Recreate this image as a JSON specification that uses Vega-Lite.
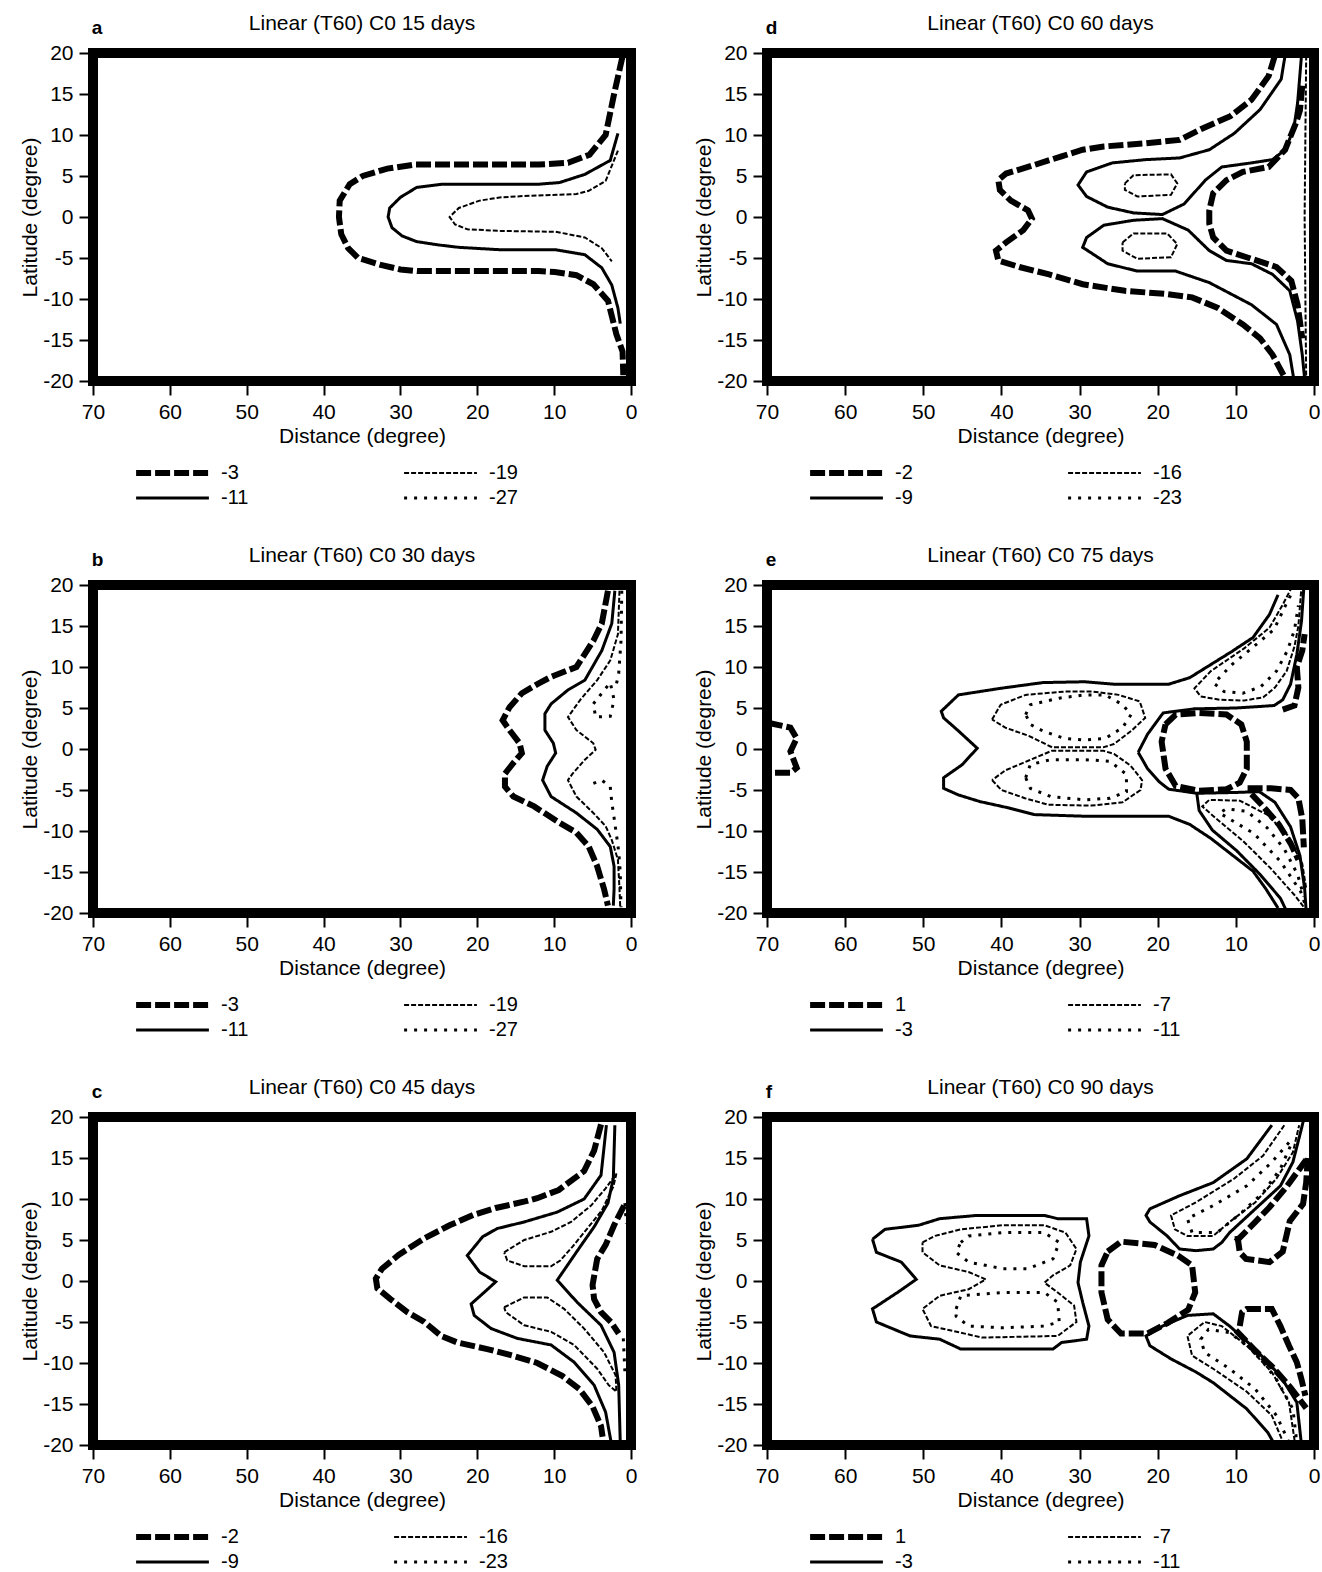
{
  "$schema": "https://vega.github.io/schema/vega-lite/v6.json",
  "background": "white",
  "padding": {"left": 14, "top": 8, "right": 0, "bottom": 0},
  "config": {
    "font": "Liberation Sans",
    "view": {"stroke": "black", "strokeWidth": 10},
    "axis": {
      "labelFontSize": 21, "titleFontSize": 21, "titleFontWeight": "normal",
      "labelColor": "black", "titleColor": "black", "tickColor": "black",
      "tickSize": 14, "tickWidth": 2, "domain": false, "grid": false, "labelFlush": false
    },
    "axisX": {"labelPadding": 6, "titlePadding": 3},
    "axisY": {"labelPadding": 6, "titlePadding": 2},
    "title": {"fontSize": 21, "fontWeight": "normal", "color": "black", "offset": 8},
    "legend": {
      "orient": "none", "legendX": 40, "legendY": 409, "direction": "horizontal",
      "columns": 2, "symbolType": "stroke", "symbolSize": 5300,
      "symbolStrokeColor": "black", "clipHeight": 22, "labelFontSize": 20,
      "labelColor": "black", "labelOffset": 9, "columnPadding": 152, "rowPadding": 3
    }
  },
  "datasets": {
    "c": [
      {"p":"a","l":"-3","g":1,"x":1.1,"y":19.6},{"p":"a","l":"-3","g":1,"x":2.2,"y":15},{"p":"a","l":"-3","g":1,"x":3.3,"y":10},{"p":"a","l":"-3","g":1,"x":5.4,"y":7.6},{"p":"a","l":"-3","g":1,"x":8.2,"y":6.6},{"p":"a","l":"-3","g":1,"x":12,"y":6.4},{"p":"a","l":"-3","g":1,"x":28,"y":6.4},{"p":"a","l":"-3","g":1,"x":31.7,"y":5.9},{"p":"a","l":"-3","g":1,"x":34.9,"y":5.0},{"p":"a","l":"-3","g":1,"x":36.6,"y":4.0},{"p":"a","l":"-3","g":1,"x":37.9,"y":2.0},{"p":"a","l":"-3","g":1,"x":38,"y":0},{"p":"a","l":"-3","g":1,"x":37.7,"y":-2.1},{"p":"a","l":"-3","g":1,"x":36.8,"y":-3.8},{"p":"a","l":"-3","g":1,"x":35.5,"y":-5.0},{"p":"a","l":"-3","g":1,"x":32.7,"y":-5.8},{"p":"a","l":"-3","g":1,"x":30,"y":-6.4},{"p":"a","l":"-3","g":1,"x":27.8,"y":-6.6},{"p":"a","l":"-3","g":1,"x":12,"y":-6.6},{"p":"a","l":"-3","g":1,"x":9.9,"y":-6.7},{"p":"a","l":"-3","g":1,"x":7.1,"y":-7.1},{"p":"a","l":"-3","g":1,"x":4.9,"y":-8.2},{"p":"a","l":"-3","g":1,"x":3.0,"y":-10.2},{"p":"a","l":"-3","g":1,"x":1.9,"y":-14.3},{"p":"a","l":"-3","g":1,"x":1.1,"y":-16.4},{"p":"a","l":"-3","g":1,"x":1.0,"y":-19.3},
      {"p":"a","l":"-11","g":2,"x":1.7,"y":10.2},{"p":"a","l":"-11","g":2,"x":2.7,"y":6.9},{"p":"a","l":"-11","g":2,"x":6,"y":5.2},{"p":"a","l":"-11","g":2,"x":9.3,"y":4.2},{"p":"a","l":"-11","g":2,"x":12,"y":4.0},{"p":"a","l":"-11","g":2,"x":24.6,"y":4.0},{"p":"a","l":"-11","g":2,"x":27.9,"y":3.6},{"p":"a","l":"-11","g":2,"x":30,"y":2.4},{"p":"a","l":"-11","g":2,"x":31.4,"y":1.1},{"p":"a","l":"-11","g":2,"x":31.6,"y":0},{"p":"a","l":"-11","g":2,"x":31.1,"y":-1.3},{"p":"a","l":"-11","g":2,"x":29.8,"y":-2.3},{"p":"a","l":"-11","g":2,"x":27.9,"y":-3.0},{"p":"a","l":"-11","g":2,"x":25.1,"y":-3.4},{"p":"a","l":"-11","g":2,"x":22.4,"y":-3.7},{"p":"a","l":"-11","g":2,"x":16.9,"y":-4.0},{"p":"a","l":"-11","g":2,"x":9.8,"y":-4.0},{"p":"a","l":"-11","g":2,"x":6,"y":-4.6},{"p":"a","l":"-11","g":2,"x":3.8,"y":-6.2},{"p":"a","l":"-11","g":2,"x":2.5,"y":-8.3},{"p":"a","l":"-11","g":2,"x":1.7,"y":-11.1},{"p":"a","l":"-11","g":2,"x":1.4,"y":-13},
      {"p":"a","l":"-19","g":3,"x":1.7,"y":8.1},{"p":"a","l":"-19","g":3,"x":3.3,"y":4.4},{"p":"a","l":"-19","g":3,"x":5.5,"y":3.2},{"p":"a","l":"-19","g":3,"x":7.1,"y":2.8},{"p":"a","l":"-19","g":3,"x":13.1,"y":2.6},{"p":"a","l":"-19","g":3,"x":16.9,"y":2.4},{"p":"a","l":"-19","g":3,"x":19.7,"y":2.0},{"p":"a","l":"-19","g":3,"x":22.4,"y":1.1},{"p":"a","l":"-19","g":3,"x":23.6,"y":0},{"p":"a","l":"-19","g":3,"x":22.9,"y":-0.9},{"p":"a","l":"-19","g":3,"x":21.3,"y":-1.5},{"p":"a","l":"-19","g":3,"x":16.9,"y":-1.7},{"p":"a","l":"-19","g":3,"x":9.8,"y":-1.8},{"p":"a","l":"-19","g":3,"x":6,"y":-2.5},{"p":"a","l":"-19","g":3,"x":3.8,"y":-3.8},{"p":"a","l":"-19","g":3,"x":2.5,"y":-5.4},

      {"p":"b","l":"-3","g":1,"x":3.0,"y":19.3},{"p":"b","l":"-3","g":1,"x":3.8,"y":15.3},{"p":"b","l":"-3","g":1,"x":4.9,"y":13.2},{"p":"b","l":"-3","g":1,"x":7.1,"y":10},{"p":"b","l":"-3","g":1,"x":10.4,"y":8.8},{"p":"b","l":"-3","g":1,"x":12,"y":8.0},{"p":"b","l":"-3","g":1,"x":14.2,"y":6.8},{"p":"b","l":"-3","g":1,"x":15.8,"y":5.1},{"p":"b","l":"-3","g":1,"x":16.7,"y":3.5},{"p":"b","l":"-3","g":1,"x":15.8,"y":2.3},{"p":"b","l":"-3","g":1,"x":14.5,"y":0.7},{"p":"b","l":"-3","g":1,"x":14.2,"y":-0.5},{"p":"b","l":"-3","g":1,"x":15.3,"y":-1.7},{"p":"b","l":"-3","g":1,"x":16.4,"y":-3.0},{"p":"b","l":"-3","g":1,"x":16.4,"y":-4.6},{"p":"b","l":"-3","g":1,"x":15.3,"y":-5.8},{"p":"b","l":"-3","g":1,"x":12.6,"y":-7.0},{"p":"b","l":"-3","g":1,"x":9.3,"y":-9.0},{"p":"b","l":"-3","g":1,"x":7.1,"y":-10.2},{"p":"b","l":"-3","g":1,"x":5.5,"y":-11.9},{"p":"b","l":"-3","g":1,"x":4.4,"y":-14.3},{"p":"b","l":"-3","g":1,"x":3.5,"y":-17.1},{"p":"b","l":"-3","g":1,"x":3.0,"y":-19.1},
      {"p":"b","l":"-11","g":2,"x":2.1,"y":19.3},{"p":"b","l":"-11","g":2,"x":2.5,"y":15.3},{"p":"b","l":"-11","g":2,"x":3.8,"y":12},{"p":"b","l":"-11","g":2,"x":6,"y":8.4},{"p":"b","l":"-11","g":2,"x":8.2,"y":7.2},{"p":"b","l":"-11","g":2,"x":10.4,"y":5.5},{"p":"b","l":"-11","g":2,"x":11.2,"y":4.3},{"p":"b","l":"-11","g":2,"x":11.2,"y":2.3},{"p":"b","l":"-11","g":2,"x":10.1,"y":0.7},{"p":"b","l":"-11","g":2,"x":9.8,"y":-0.5},{"p":"b","l":"-11","g":2,"x":10.9,"y":-2.1},{"p":"b","l":"-11","g":2,"x":11.5,"y":-3.8},{"p":"b","l":"-11","g":2,"x":10.4,"y":-5.8},{"p":"b","l":"-11","g":2,"x":7.1,"y":-7.8},{"p":"b","l":"-11","g":2,"x":4.4,"y":-9.8},{"p":"b","l":"-11","g":2,"x":2.7,"y":-11.9},{"p":"b","l":"-11","g":2,"x":2.2,"y":-14.3},{"p":"b","l":"-11","g":2,"x":2.2,"y":-17.1},{"p":"b","l":"-11","g":2,"x":2.3,"y":-19.1},
      {"p":"b","l":"-19","g":3,"x":1.5,"y":19.3},{"p":"b","l":"-19","g":3,"x":1.7,"y":14},{"p":"b","l":"-19","g":3,"x":2.7,"y":10.8},{"p":"b","l":"-19","g":3,"x":4.4,"y":8.4},{"p":"b","l":"-19","g":3,"x":6.6,"y":6.0},{"p":"b","l":"-19","g":3,"x":8.2,"y":3.9},{"p":"b","l":"-19","g":3,"x":7.1,"y":2.3},{"p":"b","l":"-19","g":3,"x":4.9,"y":0.7},{"p":"b","l":"-19","g":3,"x":4.6,"y":-0.1},{"p":"b","l":"-19","g":3,"x":6,"y":-1.3},{"p":"b","l":"-19","g":3,"x":7.6,"y":-3.0},{"p":"b","l":"-19","g":3,"x":8.2,"y":-3.8},{"p":"b","l":"-19","g":3,"x":7.1,"y":-5.8},{"p":"b","l":"-19","g":3,"x":4.9,"y":-7.8},{"p":"b","l":"-19","g":3,"x":3.3,"y":-9.4},{"p":"b","l":"-19","g":3,"x":2.5,"y":-11.1},{"p":"b","l":"-19","g":3,"x":1.7,"y":-13.5},{"p":"b","l":"-19","g":3,"x":1.5,"y":-17},{"p":"b","l":"-19","g":3,"x":1.4,"y":-19.3},
      {"p":"b","l":"-27","g":4,"x":4.9,"y":5.5},{"p":"b","l":"-27","g":4,"x":3.8,"y":6.8},{"p":"b","l":"-27","g":4,"x":2.7,"y":8.1},{"p":"b","l":"-27","g":4,"x":2.2,"y":6},{"p":"b","l":"-27","g":4,"x":2.7,"y":4},{"p":"b","l":"-27","g":4,"x":4.6,"y":3.9},{"p":"b","l":"-27","g":4,"x":4.9,"y":5.5},
      {"p":"b","l":"-27","g":5,"x":1.2,"y":19.3},{"p":"b","l":"-27","g":5,"x":1.3,"y":13.2},{"p":"b","l":"-27","g":5,"x":1.6,"y":9.2},{"p":"b","l":"-27","g":5,"x":2.0,"y":7.5},
      {"p":"b","l":"-27","g":6,"x":4.9,"y":-4.2},{"p":"b","l":"-27","g":6,"x":3.8,"y":-3.8},{"p":"b","l":"-27","g":6,"x":2.7,"y":-4.6},{"p":"b","l":"-27","g":6,"x":2.5,"y":-6.5},{"p":"b","l":"-27","g":6,"x":2.2,"y":-8.4},{"p":"b","l":"-27","g":6,"x":1.9,"y":-10.4},{"p":"b","l":"-27","g":6,"x":1.6,"y":-12.5},{"p":"b","l":"-27","g":6,"x":1.4,"y":-15},{"p":"b","l":"-27","g":6,"x":1.3,"y":-19.3},

      {"p":"c","l":"-2","g":1,"x":3.9,"y":19.1},{"p":"c","l":"-2","g":1,"x":4.8,"y":15.9},{"p":"c","l":"-2","g":1,"x":6.1,"y":13.4},{"p":"c","l":"-2","g":1,"x":9.4,"y":11.1},{"p":"c","l":"-2","g":1,"x":12.2,"y":10.1},{"p":"c","l":"-2","g":1,"x":13.8,"y":9.7},{"p":"c","l":"-2","g":1,"x":17.6,"y":8.9},{"p":"c","l":"-2","g":1,"x":20.4,"y":8.1},{"p":"c","l":"-2","g":1,"x":23.6,"y":6.8},{"p":"c","l":"-2","g":1,"x":26.9,"y":5.2},{"p":"c","l":"-2","g":1,"x":30.2,"y":3.2},{"p":"c","l":"-2","g":1,"x":32.4,"y":1.5},{"p":"c","l":"-2","g":1,"x":33.2,"y":0.3},{"p":"c","l":"-2","g":1,"x":33,"y":-0.9},{"p":"c","l":"-2","g":1,"x":31.3,"y":-2.2},{"p":"c","l":"-2","g":1,"x":29.1,"y":-3.8},{"p":"c","l":"-2","g":1,"x":26.9,"y":-5.0},{"p":"c","l":"-2","g":1,"x":24.7,"y":-6.7},{"p":"c","l":"-2","g":1,"x":22.6,"y":-7.5},{"p":"c","l":"-2","g":1,"x":18.7,"y":-8.3},{"p":"c","l":"-2","g":1,"x":15.4,"y":-9.1},{"p":"c","l":"-2","g":1,"x":12.2,"y":-10},{"p":"c","l":"-2","g":1,"x":8.9,"y":-11.6},{"p":"c","l":"-2","g":1,"x":6.7,"y":-13.2},{"p":"c","l":"-2","g":1,"x":5,"y":-15.3},{"p":"c","l":"-2","g":1,"x":3.9,"y":-17.7},{"p":"c","l":"-2","g":1,"x":3.7,"y":-19},
      {"p":"c","l":"-9","g":2,"x":3.2,"y":19},{"p":"c","l":"-9","g":2,"x":3.9,"y":12.9},{"p":"c","l":"-9","g":2,"x":6.1,"y":10},{"p":"c","l":"-9","g":2,"x":9.6,"y":8.4},{"p":"c","l":"-9","g":2,"x":13.9,"y":7.2},{"p":"c","l":"-9","g":2,"x":17.4,"y":6.4},{"p":"c","l":"-9","g":2,"x":19.3,"y":5.4},{"p":"c","l":"-9","g":2,"x":21.3,"y":3.1},{"p":"c","l":"-9","g":2,"x":19.7,"y":1.1},{"p":"c","l":"-9","g":2,"x":17.6,"y":-0.1},{"p":"c","l":"-9","g":2,"x":19.0,"y":-1.3},{"p":"c","l":"-9","g":2,"x":20.8,"y":-2.8},{"p":"c","l":"-9","g":2,"x":20.4,"y":-4.2},{"p":"c","l":"-9","g":2,"x":18.2,"y":-5.8},{"p":"c","l":"-9","g":2,"x":14.8,"y":-7.0},{"p":"c","l":"-9","g":2,"x":10.4,"y":-7.8},{"p":"c","l":"-9","g":2,"x":7.4,"y":-9.9},{"p":"c","l":"-9","g":2,"x":4.8,"y":-12.7},{"p":"c","l":"-9","g":2,"x":3.3,"y":-16},{"p":"c","l":"-9","g":2,"x":2.6,"y":-19.6},
      {"p":"c","l":"-9","g":3,"x":2.1,"y":19},{"p":"c","l":"-9","g":3,"x":2.3,"y":12.5},{"p":"c","l":"-9","g":3,"x":3.0,"y":9.5},{"p":"c","l":"-9","g":3,"x":4.8,"y":6.6},{"p":"c","l":"-9","g":3,"x":6.6,"y":4.2},{"p":"c","l":"-9","g":3,"x":9.6,"y":0.1},{"p":"c","l":"-9","g":3,"x":7.0,"y":-2.6},{"p":"c","l":"-9","g":3,"x":3.9,"y":-5.4},{"p":"c","l":"-9","g":3,"x":2.2,"y":-8.7},{"p":"c","l":"-9","g":3,"x":1.6,"y":-12.7},{"p":"c","l":"-9","g":3,"x":1.4,"y":-19.6},
      {"p":"c","l":"-16","g":4,"x":16.5,"y":3.5},{"p":"c","l":"-16","g":4,"x":13.9,"y":5.0},{"p":"c","l":"-16","g":4,"x":10.4,"y":6.0},{"p":"c","l":"-16","g":4,"x":7.8,"y":7.2},{"p":"c","l":"-16","g":4,"x":5.2,"y":9.2},{"p":"c","l":"-16","g":4,"x":3.3,"y":11.3},{"p":"c","l":"-16","g":4,"x":1.9,"y":13.1},{"p":"c","l":"-16","g":4,"x":2.3,"y":11.5},{"p":"c","l":"-16","g":4,"x":3.8,"y":8.6},{"p":"c","l":"-16","g":4,"x":5.6,"y":6.5},{"p":"c","l":"-16","g":4,"x":7.6,"y":4.2},{"p":"c","l":"-16","g":4,"x":9.2,"y":2.5},{"p":"c","l":"-16","g":4,"x":10.4,"y":1.8},{"p":"c","l":"-16","g":4,"x":13.9,"y":1.8},{"p":"c","l":"-16","g":4,"x":16.1,"y":2.5},{"p":"c","l":"-16","g":4,"x":16.5,"y":3.5},
      {"p":"c","l":"-16","g":5,"x":16.5,"y":-3.2},{"p":"c","l":"-16","g":5,"x":13.9,"y":-2.0},{"p":"c","l":"-16","g":5,"x":10.9,"y":-2.0},{"p":"c","l":"-16","g":5,"x":8.7,"y":-3.4},{"p":"c","l":"-16","g":5,"x":6.1,"y":-5.8},{"p":"c","l":"-16","g":5,"x":3.5,"y":-8.7},{"p":"c","l":"-16","g":5,"x":2.0,"y":-11.5},{"p":"c","l":"-16","g":5,"x":1.9,"y":-13.5},{"p":"c","l":"-16","g":5,"x":2.9,"y":-12.7},{"p":"c","l":"-16","g":5,"x":4.4,"y":-10.7},{"p":"c","l":"-16","g":5,"x":7.4,"y":-7.8},{"p":"c","l":"-16","g":5,"x":10.4,"y":-6.2},{"p":"c","l":"-16","g":5,"x":13.9,"y":-5.4},{"p":"c","l":"-16","g":5,"x":16.3,"y":-3.8},{"p":"c","l":"-16","g":5,"x":16.5,"y":-3.2},
      {"p":"c","l":"-2","g":6,"x":0.9,"y":9.2},{"p":"c","l":"-2","g":6,"x":2.2,"y":6.8},{"p":"c","l":"-2","g":6,"x":3.3,"y":4.4},{"p":"c","l":"-2","g":6,"x":4.4,"y":2.7},{"p":"c","l":"-2","g":6,"x":5.0,"y":-0.5},{"p":"c","l":"-2","g":6,"x":4.8,"y":-2.2},{"p":"c","l":"-2","g":6,"x":3.9,"y":-3.8},{"p":"c","l":"-2","g":6,"x":2.6,"y":-5.0},{"p":"c","l":"-2","g":6,"x":1.6,"y":-6.4},
      {"p":"c","l":"-23","g":7,"x":0.8,"y":9.5},{"p":"c","l":"-23","g":7,"x":0.6,"y":7.0},
      {"p":"c","l":"-23","g":8,"x":1.0,"y":-7},{"p":"c","l":"-23","g":8,"x":0.8,"y":-11},

      {"p":"d","l":"-2","g":1,"x":5.0,"y":19.7},{"p":"d","l":"-2","g":1,"x":5.8,"y":17.2},{"p":"d","l":"-2","g":1,"x":8,"y":14.3},{"p":"d","l":"-2","g":1,"x":10.7,"y":12.3},{"p":"d","l":"-2","g":1,"x":14.5,"y":10.7},{"p":"d","l":"-2","g":1,"x":17.2,"y":9.4},{"p":"d","l":"-2","g":1,"x":21.5,"y":9.0},{"p":"d","l":"-2","g":1,"x":26.9,"y":8.6},{"p":"d","l":"-2","g":1,"x":29.6,"y":8.2},{"p":"d","l":"-2","g":1,"x":32.3,"y":7.4},{"p":"d","l":"-2","g":1,"x":36.6,"y":6.1},{"p":"d","l":"-2","g":1,"x":39.4,"y":5.3},{"p":"d","l":"-2","g":1,"x":40.4,"y":4.5},{"p":"d","l":"-2","g":1,"x":40.2,"y":3.3},{"p":"d","l":"-2","g":1,"x":38.8,"y":2.0},{"p":"d","l":"-2","g":1,"x":36.6,"y":0.8},{"p":"d","l":"-2","g":1,"x":36.1,"y":-0.2},{"p":"d","l":"-2","g":1,"x":37.2,"y":-1.6},{"p":"d","l":"-2","g":1,"x":39.4,"y":-3.1},{"p":"d","l":"-2","g":1,"x":40.7,"y":-4.1},{"p":"d","l":"-2","g":1,"x":40.4,"y":-5.3},{"p":"d","l":"-2","g":1,"x":37.7,"y":-6.1},{"p":"d","l":"-2","g":1,"x":33.9,"y":-7.0},{"p":"d","l":"-2","g":1,"x":29.6,"y":-8.2},{"p":"d","l":"-2","g":1,"x":24.2,"y":-9.0},{"p":"d","l":"-2","g":1,"x":18.8,"y":-9.4},{"p":"d","l":"-2","g":1,"x":15.6,"y":-9.8},{"p":"d","l":"-2","g":1,"x":12.3,"y":-11.1},{"p":"d","l":"-2","g":1,"x":9.1,"y":-13.1},{"p":"d","l":"-2","g":1,"x":6.9,"y":-14.8},{"p":"d","l":"-2","g":1,"x":5.3,"y":-16.8},{"p":"d","l":"-2","g":1,"x":3.9,"y":-19.3},
      {"p":"d","l":"-9","g":2,"x":3.7,"y":19.7},{"p":"d","l":"-9","g":2,"x":4.2,"y":16.8},{"p":"d","l":"-9","g":2,"x":6.9,"y":13.1},{"p":"d","l":"-9","g":2,"x":10.2,"y":10.2},{"p":"d","l":"-9","g":2,"x":13.4,"y":8.2},{"p":"d","l":"-9","g":2,"x":17.2,"y":7.2},{"p":"d","l":"-9","g":2,"x":21.5,"y":7.0},{"p":"d","l":"-9","g":2,"x":25.8,"y":6.6},{"p":"d","l":"-9","g":2,"x":29.1,"y":5.5},{"p":"d","l":"-9","g":2,"x":30.2,"y":3.9},{"p":"d","l":"-9","g":2,"x":29.1,"y":2.5},{"p":"d","l":"-9","g":2,"x":26.4,"y":1.2},{"p":"d","l":"-9","g":2,"x":23.1,"y":0.5},{"p":"d","l":"-9","g":2,"x":19.4,"y":0.3},{"p":"d","l":"-9","g":2,"x":16.6,"y":1.6},{"p":"d","l":"-9","g":2,"x":13.9,"y":4.5},{"p":"d","l":"-9","g":2,"x":11.8,"y":6.1},{"p":"d","l":"-9","g":2,"x":8,"y":6.6},{"p":"d","l":"-9","g":2,"x":5.3,"y":7.0},{"p":"d","l":"-9","g":2,"x":3.7,"y":8.2},{"p":"d","l":"-9","g":2,"x":2.6,"y":10.7},{"p":"d","l":"-9","g":2,"x":2.1,"y":13.9},{"p":"d","l":"-9","g":2,"x":1.6,"y":19.7},
      {"p":"d","l":"-9","g":3,"x":2.6,"y":-19.7},{"p":"d","l":"-9","g":3,"x":3.1,"y":-16.8},{"p":"d","l":"-9","g":3,"x":4.8,"y":-13.1},{"p":"d","l":"-9","g":3,"x":8,"y":-10.7},{"p":"d","l":"-9","g":3,"x":13.4,"y":-8.0},{"p":"d","l":"-9","g":3,"x":17.7,"y":-6.6},{"p":"d","l":"-9","g":3,"x":22.6,"y":-6.6},{"p":"d","l":"-9","g":3,"x":26.4,"y":-5.7},{"p":"d","l":"-9","g":3,"x":29.6,"y":-3.7},{"p":"d","l":"-9","g":3,"x":29.1,"y":-2.5},{"p":"d","l":"-9","g":3,"x":26.9,"y":-1.0},{"p":"d","l":"-9","g":3,"x":23.1,"y":-0.4},{"p":"d","l":"-9","g":3,"x":19.4,"y":-0.2},{"p":"d","l":"-9","g":3,"x":16.1,"y":-1.6},{"p":"d","l":"-9","g":3,"x":13.4,"y":-4.1},{"p":"d","l":"-9","g":3,"x":11.2,"y":-5.3},{"p":"d","l":"-9","g":3,"x":8,"y":-5.7},{"p":"d","l":"-9","g":3,"x":5.3,"y":-7.0},{"p":"d","l":"-9","g":3,"x":3.1,"y":-9.0},{"p":"d","l":"-9","g":3,"x":2.1,"y":-12.7},{"p":"d","l":"-9","g":3,"x":1.5,"y":-16.8},{"p":"d","l":"-9","g":3,"x":1.2,"y":-19.7},
      {"p":"d","l":"-16","g":4,"x":24.2,"y":4.1},{"p":"d","l":"-16","g":4,"x":23.1,"y":5.1},{"p":"d","l":"-16","g":4,"x":18.3,"y":5.2},{"p":"d","l":"-16","g":4,"x":17.5,"y":4.1},{"p":"d","l":"-16","g":4,"x":18.3,"y":2.7},{"p":"d","l":"-16","g":4,"x":22.6,"y":2.5},{"p":"d","l":"-16","g":4,"x":24.2,"y":3.3},{"p":"d","l":"-16","g":4,"x":24.2,"y":4.1},
      {"p":"d","l":"-16","g":5,"x":24.5,"y":-3.1},{"p":"d","l":"-16","g":5,"x":23.1,"y":-2.0},{"p":"d","l":"-16","g":5,"x":18.8,"y":-2.0},{"p":"d","l":"-16","g":5,"x":17.5,"y":-3.3},{"p":"d","l":"-16","g":5,"x":18.3,"y":-4.9},{"p":"d","l":"-16","g":5,"x":22.6,"y":-5.1},{"p":"d","l":"-16","g":5,"x":24.5,"y":-4.1},{"p":"d","l":"-16","g":5,"x":24.5,"y":-3.1},
      {"p":"d","l":"-2","g":6,"x":1.5,"y":16},{"p":"d","l":"-2","g":6,"x":1.8,"y":13},{"p":"d","l":"-2","g":6,"x":2.3,"y":11.5},{"p":"d","l":"-2","g":6,"x":3.7,"y":8.2},{"p":"d","l":"-2","g":6,"x":5.8,"y":6.1},{"p":"d","l":"-2","g":6,"x":9.1,"y":5.5},{"p":"d","l":"-2","g":6,"x":11.2,"y":4.5},{"p":"d","l":"-2","g":6,"x":12.9,"y":2.9},{"p":"d","l":"-2","g":6,"x":13.4,"y":0.8},{"p":"d","l":"-2","g":6,"x":13.4,"y":-0.8},{"p":"d","l":"-2","g":6,"x":12.9,"y":-2.5},{"p":"d","l":"-2","g":6,"x":11.2,"y":-4.1},{"p":"d","l":"-2","g":6,"x":8,"y":-5.1},{"p":"d","l":"-2","g":6,"x":4.8,"y":-6.1},{"p":"d","l":"-2","g":6,"x":2.9,"y":-7.8},{"p":"d","l":"-2","g":6,"x":2.1,"y":-10.7},{"p":"d","l":"-2","g":6,"x":1.5,"y":-14.8},
      {"p":"d","l":"-16","g":7,"x":1.0,"y":19.7},{"p":"d","l":"-16","g":7,"x":1.1,"y":10},{"p":"d","l":"-16","g":7,"x":1.2,"y":0},{"p":"d","l":"-16","g":7,"x":1.1,"y":-10},{"p":"d","l":"-16","g":7,"x":1.0,"y":-19.7},

      {"p":"e","l":"1","g":1,"x":69.9,"y":3.2},{"p":"e","l":"1","g":1,"x":67.0,"y":2.6},{"p":"e","l":"1","g":1,"x":66.2,"y":1.3},{"p":"e","l":"1","g":1,"x":67.0,"y":-0.3},{"p":"e","l":"1","g":1,"x":66.2,"y":-2.3},{"p":"e","l":"1","g":1,"x":67.0,"y":-2.9},{"p":"e","l":"1","g":1,"x":69.9,"y":-2.9},
      {"p":"e","l":"-3","g":2,"x":4.6,"y":18.8},{"p":"e","l":"-3","g":2,"x":5.7,"y":16.4},{"p":"e","l":"-3","g":2,"x":7.8,"y":13.6},{"p":"e","l":"-3","g":2,"x":10.5,"y":11.9},{"p":"e","l":"-3","g":2,"x":13.2,"y":10.3},{"p":"e","l":"-3","g":2,"x":15.9,"y":8.7},{"p":"e","l":"-3","g":2,"x":18.6,"y":7.9},{"p":"e","l":"-3","g":2,"x":25.6,"y":7.9},{"p":"e","l":"-3","g":2,"x":29.3,"y":8.2},{"p":"e","l":"-3","g":2,"x":34.7,"y":8.1},{"p":"e","l":"-3","g":2,"x":40.1,"y":7.4},{"p":"e","l":"-3","g":2,"x":45.5,"y":6.6},{"p":"e","l":"-3","g":2,"x":47.7,"y":4.6},{"p":"e","l":"-3","g":2,"x":47.4,"y":3.8},{"p":"e","l":"-3","g":2,"x":45.5,"y":2.2},{"p":"e","l":"-3","g":2,"x":43.1,"y":0.1},{"p":"e","l":"-3","g":2,"x":45,"y":-1.9},{"p":"e","l":"-3","g":2,"x":47.4,"y":-3.5},{"p":"e","l":"-3","g":2,"x":47.4,"y":-4.8},{"p":"e","l":"-3","g":2,"x":45.5,"y":-5.6},{"p":"e","l":"-3","g":2,"x":42.8,"y":-6.4},{"p":"e","l":"-3","g":2,"x":39.0,"y":-7.2},{"p":"e","l":"-3","g":2,"x":35.8,"y":-8.0},{"p":"e","l":"-3","g":2,"x":29.3,"y":-8.2},{"p":"e","l":"-3","g":2,"x":18.6,"y":-8.2},{"p":"e","l":"-3","g":2,"x":15.9,"y":-9.2},{"p":"e","l":"-3","g":2,"x":13.2,"y":-10.9},{"p":"e","l":"-3","g":2,"x":10.5,"y":-12.9},{"p":"e","l":"-3","g":2,"x":7.8,"y":-14.9},{"p":"e","l":"-3","g":2,"x":6.2,"y":-17.0},{"p":"e","l":"-3","g":2,"x":4.6,"y":-19.4},
      {"p":"e","l":"-3","g":3,"x":22.5,"y":-0.4},{"p":"e","l":"-3","g":3,"x":21.3,"y":1.8},{"p":"e","l":"-3","g":3,"x":20.0,"y":3.5},{"p":"e","l":"-3","g":3,"x":19.3,"y":4.4},{"p":"e","l":"-3","g":3,"x":15.3,"y":4.9},{"p":"e","l":"-3","g":3,"x":10.0,"y":5.0},{"p":"e","l":"-3","g":3,"x":5.1,"y":5.3},{"p":"e","l":"-3","g":3,"x":4.0,"y":6.0},{"p":"e","l":"-3","g":3,"x":3.0,"y":7.9},{"p":"e","l":"-3","g":3,"x":2.2,"y":11.5},{"p":"e","l":"-3","g":3,"x":1.6,"y":15.6},{"p":"e","l":"-3","g":3,"x":1.3,"y":19.7},
      {"p":"e","l":"-3","g":4,"x":22.5,"y":-0.4},{"p":"e","l":"-3","g":4,"x":21.3,"y":-2.4},{"p":"e","l":"-3","g":4,"x":19.8,"y":-4.0},{"p":"e","l":"-3","g":4,"x":18.6,"y":-4.9},{"p":"e","l":"-3","g":4,"x":15.0,"y":-5.4},{"p":"e","l":"-3","g":4,"x":14.7,"y":-7.5},{"p":"e","l":"-3","g":4,"x":13.0,"y":-9.9},{"p":"e","l":"-3","g":4,"x":9.9,"y":-12.4},{"p":"e","l":"-3","g":4,"x":6.9,"y":-15.3},{"p":"e","l":"-3","g":4,"x":4.3,"y":-18.2},{"p":"e","l":"-3","g":4,"x":3.5,"y":-19.8},
      {"p":"e","l":"-3","g":5,"x":15.0,"y":-5.4},{"p":"e","l":"-3","g":5,"x":10.0,"y":-5.3},{"p":"e","l":"-3","g":5,"x":7.0,"y":-5.2},{"p":"e","l":"-3","g":5,"x":5.0,"y":-6.5},{"p":"e","l":"-3","g":5,"x":3.0,"y":-9.5},{"p":"e","l":"-3","g":5,"x":1.8,"y":-13},{"p":"e","l":"-3","g":5,"x":1.2,"y":-17},{"p":"e","l":"-3","g":5,"x":1.0,"y":-19.8},
      {"p":"e","l":"1","g":6,"x":19.0,"y":3.0},{"p":"e","l":"1","g":6,"x":17.7,"y":4.2},{"p":"e","l":"1","g":6,"x":14.7,"y":4.4},{"p":"e","l":"1","g":6,"x":11.2,"y":4.2},{"p":"e","l":"1","g":6,"x":9.3,"y":3.0},{"p":"e","l":"1","g":6,"x":8.6,"y":0.9},{"p":"e","l":"1","g":6,"x":8.6,"y":-2.4},{"p":"e","l":"1","g":6,"x":9.5,"y":-4.1},{"p":"e","l":"1","g":6,"x":11.2,"y":-4.9},{"p":"e","l":"1","g":6,"x":14.7,"y":-5.1},{"p":"e","l":"1","g":6,"x":17.7,"y":-4.5},{"p":"e","l":"1","g":6,"x":19.0,"y":-2.4},{"p":"e","l":"1","g":6,"x":19.5,"y":0.9},{"p":"e","l":"1","g":6,"x":19.0,"y":3.0},
      {"p":"e","l":"1","g":7,"x":4.0,"y":4.8},{"p":"e","l":"1","g":7,"x":2.5,"y":5.3},{"p":"e","l":"1","g":7,"x":2.0,"y":7.5},{"p":"e","l":"1","g":7,"x":2.2,"y":10},{"p":"e","l":"1","g":7,"x":1.5,"y":12},{"p":"e","l":"1","g":7,"x":1.2,"y":14},
      {"p":"e","l":"1","g":8,"x":8.5,"y":-4.8},{"p":"e","l":"1","g":8,"x":5.5,"y":-4.8},{"p":"e","l":"1","g":8,"x":3.0,"y":-5.0},{"p":"e","l":"1","g":8,"x":2.0,"y":-6.0},{"p":"e","l":"1","g":8,"x":1.5,"y":-8.5},{"p":"e","l":"1","g":8,"x":1.3,"y":-12},
      {"p":"e","l":"1","g":9,"x":8.0,"y":-5.5},{"p":"e","l":"1","g":9,"x":6.5,"y":-7.0},{"p":"e","l":"1","g":9,"x":4.5,"y":-9.2},{"p":"e","l":"1","g":9,"x":3.0,"y":-11.5},{"p":"e","l":"1","g":9,"x":2.0,"y":-13.5},
      {"p":"e","l":"-7","g":10,"x":41.2,"y":3.6},{"p":"e","l":"-7","g":10,"x":40.1,"y":5.4},{"p":"e","l":"-7","g":10,"x":36.9,"y":6.6},{"p":"e","l":"-7","g":10,"x":32.0,"y":7.0},{"p":"e","l":"-7","g":10,"x":28.3,"y":7.0},{"p":"e","l":"-7","g":10,"x":25.0,"y":6.6},{"p":"e","l":"-7","g":10,"x":22.3,"y":5.8},{"p":"e","l":"-7","g":10,"x":21.6,"y":3.8},{"p":"e","l":"-7","g":10,"x":23.4,"y":2.2},{"p":"e","l":"-7","g":10,"x":25.6,"y":0.6},{"p":"e","l":"-7","g":10,"x":27,"y":0.2},{"p":"e","l":"-7","g":10,"x":33.5,"y":0.2},{"p":"e","l":"-7","g":10,"x":36.5,"y":1.6},{"p":"e","l":"-7","g":10,"x":39.5,"y":2.6},{"p":"e","l":"-7","g":10,"x":41.2,"y":3.6},
      {"p":"e","l":"-7","g":11,"x":41.2,"y":-3.8},{"p":"e","l":"-7","g":11,"x":40,"y":-5.0},{"p":"e","l":"-7","g":11,"x":37,"y":-6.0},{"p":"e","l":"-7","g":11,"x":34,"y":-6.8},{"p":"e","l":"-7","g":11,"x":28.5,"y":-6.9},{"p":"e","l":"-7","g":11,"x":24.5,"y":-6.5},{"p":"e","l":"-7","g":11,"x":22.2,"y":-5.0},{"p":"e","l":"-7","g":11,"x":22,"y":-3.8},{"p":"e","l":"-7","g":11,"x":23.5,"y":-2.0},{"p":"e","l":"-7","g":11,"x":25.6,"y":-0.6},{"p":"e","l":"-7","g":11,"x":27,"y":-0.2},{"p":"e","l":"-7","g":11,"x":33.5,"y":-0.2},{"p":"e","l":"-7","g":11,"x":36.5,"y":-1.4},{"p":"e","l":"-7","g":11,"x":39.5,"y":-2.6},{"p":"e","l":"-7","g":11,"x":41.2,"y":-3.8},
      {"p":"e","l":"-7","g":12,"x":2.8,"y":19.8},{"p":"e","l":"-7","g":12,"x":4.0,"y":17.6},{"p":"e","l":"-7","g":12,"x":5.7,"y":14.8},{"p":"e","l":"-7","g":12,"x":8.9,"y":12.3},{"p":"e","l":"-7","g":12,"x":13.2,"y":9.5},{"p":"e","l":"-7","g":12,"x":15.3,"y":7.4},{"p":"e","l":"-7","g":12,"x":14.5,"y":6.4},{"p":"e","l":"-7","g":12,"x":12,"y":6.0},{"p":"e","l":"-7","g":12,"x":9,"y":5.9},{"p":"e","l":"-7","g":12,"x":6.5,"y":6.3},{"p":"e","l":"-7","g":12,"x":5,"y":7.5},{"p":"e","l":"-7","g":12,"x":3.5,"y":9.5},{"p":"e","l":"-7","g":12,"x":2.5,"y":12.5},{"p":"e","l":"-7","g":12,"x":2.0,"y":15},{"p":"e","l":"-7","g":12,"x":1.6,"y":19.8},
      {"p":"e","l":"-7","g":13,"x":0.8,"y":-19.9},{"p":"e","l":"-7","g":13,"x":2.5,"y":-17.8},{"p":"e","l":"-7","g":13,"x":5.6,"y":-14.5},{"p":"e","l":"-7","g":13,"x":9.1,"y":-11.2},{"p":"e","l":"-7","g":13,"x":12.5,"y":-8.5},{"p":"e","l":"-7","g":13,"x":14.3,"y":-7.0},{"p":"e","l":"-7","g":13,"x":13.4,"y":-6.2},{"p":"e","l":"-7","g":13,"x":9.5,"y":-6.3},{"p":"e","l":"-7","g":13,"x":6.0,"y":-8.0},{"p":"e","l":"-7","g":13,"x":3.4,"y":-10.5},{"p":"e","l":"-7","g":13,"x":1.5,"y":-14},{"p":"e","l":"-7","g":13,"x":1.0,"y":-17},
      {"p":"e","l":"-11","g":14,"x":36.9,"y":4.2},{"p":"e","l":"-11","g":14,"x":36.3,"y":5.4},{"p":"e","l":"-11","g":14,"x":32.6,"y":6.2},{"p":"e","l":"-11","g":14,"x":29.3,"y":6.6},{"p":"e","l":"-11","g":14,"x":26.7,"y":6.6},{"p":"e","l":"-11","g":14,"x":24.5,"y":5.4},{"p":"e","l":"-11","g":14,"x":23.4,"y":4.2},{"p":"e","l":"-11","g":14,"x":24.5,"y":2.6},{"p":"e","l":"-11","g":14,"x":26.7,"y":1.3},{"p":"e","l":"-11","g":14,"x":29.3,"y":1.1},{"p":"e","l":"-11","g":14,"x":32.0,"y":1.3},{"p":"e","l":"-11","g":14,"x":34.7,"y":2.2},{"p":"e","l":"-11","g":14,"x":36.3,"y":3.0},{"p":"e","l":"-11","g":14,"x":36.9,"y":4.2},
      {"p":"e","l":"-11","g":15,"x":36.9,"y":-3.5},{"p":"e","l":"-11","g":15,"x":36.3,"y":-1.9},{"p":"e","l":"-11","g":15,"x":33.7,"y":-1.3},{"p":"e","l":"-11","g":15,"x":29.3,"y":-1.3},{"p":"e","l":"-11","g":15,"x":26.1,"y":-1.5},{"p":"e","l":"-11","g":15,"x":24.0,"y":-3.1},{"p":"e","l":"-11","g":15,"x":24.0,"y":-5.2},{"p":"e","l":"-11","g":15,"x":26.1,"y":-6.0},{"p":"e","l":"-11","g":15,"x":29.3,"y":-6.2},{"p":"e","l":"-11","g":15,"x":33.7,"y":-5.8},{"p":"e","l":"-11","g":15,"x":36.3,"y":-4.8},{"p":"e","l":"-11","g":15,"x":36.9,"y":-3.5},
      {"p":"e","l":"-11","g":16,"x":2.4,"y":19.8},{"p":"e","l":"-11","g":16,"x":3.4,"y":18},{"p":"e","l":"-11","g":16,"x":5.1,"y":14.6},{"p":"e","l":"-11","g":16,"x":7.7,"y":12.5},{"p":"e","l":"-11","g":16,"x":10.5,"y":10.3},{"p":"e","l":"-11","g":16,"x":12.8,"y":8.0},{"p":"e","l":"-11","g":16,"x":11.5,"y":7.0},{"p":"e","l":"-11","g":16,"x":9.1,"y":6.8},{"p":"e","l":"-11","g":16,"x":6.8,"y":7.6},{"p":"e","l":"-11","g":16,"x":4.8,"y":9.5},{"p":"e","l":"-11","g":16,"x":3.4,"y":12},{"p":"e","l":"-11","g":16,"x":2.5,"y":14.5},{"p":"e","l":"-11","g":16,"x":2.0,"y":17.5},
      {"p":"e","l":"-11","g":17,"x":0.8,"y":-19.9},{"p":"e","l":"-11","g":17,"x":1.7,"y":-17.4},{"p":"e","l":"-11","g":17,"x":4.3,"y":-13.7},{"p":"e","l":"-11","g":17,"x":7.7,"y":-10.3},{"p":"e","l":"-11","g":17,"x":12.1,"y":-7.8},{"p":"e","l":"-11","g":17,"x":11.2,"y":-7.3},{"p":"e","l":"-11","g":17,"x":8.6,"y":-7.6},{"p":"e","l":"-11","g":17,"x":6.0,"y":-9.6},{"p":"e","l":"-11","g":17,"x":3.8,"y":-12.2},{"p":"e","l":"-11","g":17,"x":2.1,"y":-15.3},{"p":"e","l":"-11","g":17,"x":1.3,"y":-18},

      {"p":"f","l":"-3","g":1,"x":56.5,"y":5.1},{"p":"f","l":"-3","g":1,"x":54.9,"y":6.3},{"p":"f","l":"-3","g":1,"x":50.6,"y":6.8},{"p":"f","l":"-3","g":1,"x":47.9,"y":7.6},{"p":"f","l":"-3","g":1,"x":43.1,"y":8.0},{"p":"f","l":"-3","g":1,"x":34.5,"y":8.0},{"p":"f","l":"-3","g":1,"x":32.8,"y":7.6},{"p":"f","l":"-3","g":1,"x":29.1,"y":7.6},{"p":"f","l":"-3","g":1,"x":28.8,"y":5.5},{"p":"f","l":"-3","g":1,"x":29.9,"y":2.3},{"p":"f","l":"-3","g":1,"x":30.2,"y":-0.2},{"p":"f","l":"-3","g":1,"x":29.6,"y":-2.6},{"p":"f","l":"-3","g":1,"x":28.8,"y":-5.5},{"p":"f","l":"-3","g":1,"x":29.1,"y":-7.1},{"p":"f","l":"-3","g":1,"x":32.3,"y":-7.5},{"p":"f","l":"-3","g":1,"x":33.4,"y":-8.3},{"p":"f","l":"-3","g":1,"x":45.2,"y":-8.3},{"p":"f","l":"-3","g":1,"x":47.9,"y":-7.1},{"p":"f","l":"-3","g":1,"x":51.7,"y":-6.7},{"p":"f","l":"-3","g":1,"x":56.0,"y":-5.0},{"p":"f","l":"-3","g":1,"x":56.5,"y":-3.4},{"p":"f","l":"-3","g":1,"x":53.3,"y":-1.4},{"p":"f","l":"-3","g":1,"x":50.9,"y":0.2},{"p":"f","l":"-3","g":1,"x":52.8,"y":2.3},{"p":"f","l":"-3","g":1,"x":56.0,"y":3.5},{"p":"f","l":"-3","g":1,"x":56.5,"y":5.1},
      {"p":"f","l":"-7","g":2,"x":50.1,"y":4.7},{"p":"f","l":"-7","g":2,"x":48.5,"y":5.5},{"p":"f","l":"-7","g":2,"x":45.2,"y":6.3},{"p":"f","l":"-7","g":2,"x":39.8,"y":6.8},{"p":"f","l":"-7","g":2,"x":34.5,"y":6.8},{"p":"f","l":"-7","g":2,"x":31.8,"y":5.9},{"p":"f","l":"-7","g":2,"x":30.4,"y":3.9},{"p":"f","l":"-7","g":2,"x":31.2,"y":1.9},{"p":"f","l":"-7","g":2,"x":33.4,"y":0.7},{"p":"f","l":"-7","g":2,"x":34.5,"y":-0.2},{"p":"f","l":"-7","g":2,"x":32.8,"y":-1.4},{"p":"f","l":"-7","g":2,"x":30.7,"y":-3.0},{"p":"f","l":"-7","g":2,"x":30.4,"y":-5.0},{"p":"f","l":"-7","g":2,"x":32.8,"y":-6.7},{"p":"f","l":"-7","g":2,"x":42.5,"y":-6.9},{"p":"f","l":"-7","g":2,"x":45.2,"y":-6.3},{"p":"f","l":"-7","g":2,"x":49.0,"y":-5.5},{"p":"f","l":"-7","g":2,"x":50.1,"y":-3.4},{"p":"f","l":"-7","g":2,"x":47.9,"y":-1.8},{"p":"f","l":"-7","g":2,"x":44.2,"y":-1.0},{"p":"f","l":"-7","g":2,"x":42.0,"y":0.2},{"p":"f","l":"-7","g":2,"x":44.2,"y":1.1},{"p":"f","l":"-7","g":2,"x":47.9,"y":1.9},{"p":"f","l":"-7","g":2,"x":50.1,"y":3.5},{"p":"f","l":"-7","g":2,"x":50.1,"y":4.7},
      {"p":"f","l":"-11","g":3,"x":45.2,"y":4.7},{"p":"f","l":"-11","g":3,"x":44.2,"y":5.5},{"p":"f","l":"-11","g":3,"x":39.8,"y":5.9},{"p":"f","l":"-11","g":3,"x":34.5,"y":5.9},{"p":"f","l":"-11","g":3,"x":32.6,"y":4.7},{"p":"f","l":"-11","g":3,"x":33.4,"y":2.7},{"p":"f","l":"-11","g":3,"x":36.6,"y":1.5},{"p":"f","l":"-11","g":3,"x":39.8,"y":1.5},{"p":"f","l":"-11","g":3,"x":44.2,"y":2.3},{"p":"f","l":"-11","g":3,"x":45.8,"y":3.5},{"p":"f","l":"-11","g":3,"x":45.2,"y":4.7},
      {"p":"f","l":"-11","g":4,"x":45.8,"y":-3.4},{"p":"f","l":"-11","g":4,"x":45.2,"y":-1.8},{"p":"f","l":"-11","g":4,"x":39.8,"y":-1.4},{"p":"f","l":"-11","g":4,"x":34.5,"y":-1.4},{"p":"f","l":"-11","g":4,"x":32.8,"y":-2.6},{"p":"f","l":"-11","g":4,"x":32.6,"y":-5.0},{"p":"f","l":"-11","g":4,"x":34.5,"y":-5.5},{"p":"f","l":"-11","g":4,"x":39.8,"y":-5.7},{"p":"f","l":"-11","g":4,"x":44.2,"y":-5.5},{"p":"f","l":"-11","g":4,"x":45.8,"y":-4.3},{"p":"f","l":"-11","g":4,"x":45.8,"y":-3.4},
      {"p":"f","l":"1","g":5,"x":26.4,"y":3.6},{"p":"f","l":"1","g":5,"x":24.7,"y":4.8},{"p":"f","l":"1","g":5,"x":20.4,"y":4.4},{"p":"f","l":"1","g":5,"x":17.4,"y":3.1},{"p":"f","l":"1","g":5,"x":15.6,"y":1.9},{"p":"f","l":"1","g":5,"x":15.2,"y":-1.4},{"p":"f","l":"1","g":5,"x":16.1,"y":-3.5},{"p":"f","l":"1","g":5,"x":18.7,"y":-5.1},{"p":"f","l":"1","g":5,"x":21.3,"y":-6.4},{"p":"f","l":"1","g":5,"x":24.7,"y":-6.4},{"p":"f","l":"1","g":5,"x":26.4,"y":-4.7},{"p":"f","l":"1","g":5,"x":27.2,"y":-1.4},{"p":"f","l":"1","g":5,"x":27.2,"y":1.9},{"p":"f","l":"1","g":5,"x":26.4,"y":3.6},
      {"p":"f","l":"-3","g":6,"x":5.4,"y":19.0},{"p":"f","l":"-3","g":6,"x":8.6,"y":14.9},{"p":"f","l":"-3","g":6,"x":12.9,"y":12.0},{"p":"f","l":"-3","g":6,"x":17.2,"y":10.4},{"p":"f","l":"-3","g":6,"x":21.0,"y":8.8},{"p":"f","l":"-3","g":6,"x":21.5,"y":8.0},{"p":"f","l":"-3","g":6,"x":21.0,"y":7.2},{"p":"f","l":"-3","g":6,"x":18.8,"y":5.5},{"p":"f","l":"-3","g":6,"x":17.2,"y":3.9},{"p":"f","l":"-3","g":6,"x":15.1,"y":3.7},{"p":"f","l":"-3","g":6,"x":12.9,"y":3.9},{"p":"f","l":"-3","g":6,"x":11.8,"y":4.7},{"p":"f","l":"-3","g":6,"x":10.8,"y":5.9},{"p":"f","l":"-3","g":6,"x":7.5,"y":8.8},{"p":"f","l":"-3","g":6,"x":4.3,"y":11.6},{"p":"f","l":"-3","g":6,"x":2.7,"y":14.5},{"p":"f","l":"-3","g":6,"x":1.6,"y":18.6},{"p":"f","l":"-3","g":6,"x":1.3,"y":19.8},
      {"p":"f","l":"-7","g":7,"x":3.8,"y":19.0},{"p":"f","l":"-7","g":7,"x":6.5,"y":15.3},{"p":"f","l":"-7","g":7,"x":10.2,"y":12.5},{"p":"f","l":"-7","g":7,"x":15.1,"y":9.6},{"p":"f","l":"-7","g":7,"x":18.3,"y":8.0},{"p":"f","l":"-7","g":7,"x":17.8,"y":6.3},{"p":"f","l":"-7","g":7,"x":16.2,"y":5.5},{"p":"f","l":"-7","g":7,"x":12.9,"y":5.5},{"p":"f","l":"-7","g":7,"x":10.8,"y":7.2},{"p":"f","l":"-7","g":7,"x":7.5,"y":9.6},{"p":"f","l":"-7","g":7,"x":4.8,"y":12.5},{"p":"f","l":"-7","g":7,"x":2.7,"y":15.7},{"p":"f","l":"-7","g":7,"x":1.9,"y":19.0},
      {"p":"f","l":"-11","g":8,"x":3.2,"y":16.9},{"p":"f","l":"-11","g":8,"x":5.4,"y":14.5},{"p":"f","l":"-11","g":8,"x":8.6,"y":11.6},{"p":"f","l":"-11","g":8,"x":12.9,"y":9.2},{"p":"f","l":"-11","g":8,"x":16.2,"y":7.6},{"p":"f","l":"-11","g":8,"x":15.6,"y":5.9},{"p":"f","l":"-11","g":8,"x":12.4,"y":5.9},{"p":"f","l":"-11","g":8,"x":9.2,"y":8.4},{"p":"f","l":"-11","g":8,"x":6.5,"y":10.8},{"p":"f","l":"-11","g":8,"x":4.3,"y":13.7},{"p":"f","l":"-11","g":8,"x":3.0,"y":16.5},
      {"p":"f","l":"1","g":9,"x":9.8,"y":5.5},{"p":"f","l":"1","g":9,"x":9.5,"y":3.5},{"p":"f","l":"1","g":9,"x":8.7,"y":2.7},{"p":"f","l":"1","g":9,"x":5.7,"y":2.3},{"p":"f","l":"1","g":9,"x":4.0,"y":3.6},{"p":"f","l":"1","g":9,"x":3.1,"y":7.3},{"p":"f","l":"1","g":9,"x":1.4,"y":9.4},{"p":"f","l":"1","g":9,"x":1.0,"y":12},{"p":"f","l":"1","g":9,"x":0.8,"y":15},
      {"p":"f","l":"1","g":10,"x":10.0,"y":4.8},{"p":"f","l":"1","g":10,"x":7.5,"y":7.2},{"p":"f","l":"1","g":10,"x":5.7,"y":9.0},{"p":"f","l":"1","g":10,"x":3.5,"y":11.5},{"p":"f","l":"1","g":10,"x":1.0,"y":14.8},
      {"p":"f","l":"-3","g":11,"x":5.0,"y":-20},{"p":"f","l":"-3","g":11,"x":5.9,"y":-18.5},{"p":"f","l":"-3","g":11,"x":8.6,"y":-15.6},{"p":"f","l":"-3","g":11,"x":12.9,"y":-12.4},{"p":"f","l":"-3","g":11,"x":15.1,"y":-11.1},{"p":"f","l":"-3","g":11,"x":18.3,"y":-9.5},{"p":"f","l":"-3","g":11,"x":21.0,"y":-7.9},{"p":"f","l":"-3","g":11,"x":21.5,"y":-6.7},{"p":"f","l":"-3","g":11,"x":19.4,"y":-5.5},{"p":"f","l":"-3","g":11,"x":16.2,"y":-4.2},{"p":"f","l":"-3","g":11,"x":12.9,"y":-4.0},{"p":"f","l":"-3","g":11,"x":10.8,"y":-5.5},{"p":"f","l":"-3","g":11,"x":7.5,"y":-8.3},{"p":"f","l":"-3","g":11,"x":4.3,"y":-11.6},{"p":"f","l":"-3","g":11,"x":2.2,"y":-14.8},{"p":"f","l":"-3","g":11,"x":1.6,"y":-20},
      {"p":"f","l":"-7","g":12,"x":3.8,"y":-20},{"p":"f","l":"-7","g":12,"x":5.4,"y":-16.4},{"p":"f","l":"-7","g":12,"x":8.6,"y":-13.5},{"p":"f","l":"-7","g":12,"x":12.9,"y":-10.7},{"p":"f","l":"-7","g":12,"x":15.6,"y":-9.1},{"p":"f","l":"-7","g":12,"x":16.2,"y":-6.7},{"p":"f","l":"-7","g":12,"x":14.0,"y":-5.0},{"p":"f","l":"-7","g":12,"x":11.8,"y":-5.5},{"p":"f","l":"-7","g":12,"x":8.6,"y":-7.9},{"p":"f","l":"-7","g":12,"x":5.4,"y":-11.1},{"p":"f","l":"-7","g":12,"x":3.2,"y":-14.8},{"p":"f","l":"-7","g":12,"x":2.4,"y":-20},
      {"p":"f","l":"-11","g":13,"x":3.2,"y":-19.7},{"p":"f","l":"-11","g":13,"x":4.8,"y":-16.4},{"p":"f","l":"-11","g":13,"x":7.5,"y":-13.2},{"p":"f","l":"-11","g":13,"x":10.8,"y":-10.7},{"p":"f","l":"-11","g":13,"x":14.0,"y":-8.7},{"p":"f","l":"-11","g":13,"x":14.5,"y":-7.1},{"p":"f","l":"-11","g":13,"x":13.5,"y":-5.9},{"p":"f","l":"-11","g":13,"x":10.8,"y":-6.3},{"p":"f","l":"-11","g":13,"x":7.5,"y":-8.7},{"p":"f","l":"-11","g":13,"x":4.8,"y":-12.0},{"p":"f","l":"-11","g":13,"x":2.7,"y":-15.6},{"p":"f","l":"-11","g":13,"x":2.2,"y":-19.7},
      {"p":"f","l":"1","g":14,"x":9.5,"y":-5.5},{"p":"f","l":"1","g":14,"x":9.2,"y":-3.8},{"p":"f","l":"1","g":14,"x":8.6,"y":-3.4},{"p":"f","l":"1","g":14,"x":5.4,"y":-3.4},{"p":"f","l":"1","g":14,"x":4.3,"y":-5.5},{"p":"f","l":"1","g":14,"x":3.2,"y":-7.9},{"p":"f","l":"1","g":14,"x":2.2,"y":-9.9},{"p":"f","l":"1","g":14,"x":1.6,"y":-12.0},{"p":"f","l":"1","g":14,"x":1.1,"y":-14.0},
      {"p":"f","l":"1","g":15,"x":10.0,"y":-6.0},{"p":"f","l":"1","g":15,"x":7.5,"y":-8.5},{"p":"f","l":"1","g":15,"x":5.3,"y":-10.5},{"p":"f","l":"1","g":15,"x":3,"y":-13},{"p":"f","l":"1","g":15,"x":1.0,"y":-15.5}
    ]
  },
  "columns": 2,
  "align": "each",
  "spacing": {"row": 31, "column": 46},
  "resolve": {
    "scale": {"strokeDash": "independent", "strokeWidth": "independent"},
    "legend": {"strokeDash": "independent", "strokeWidth": "independent"}
  },
  "concat": [
    {
      "title": {"text": "a", "anchor": "start", "fontWeight": "bold", "fontSize": 19, "dx": 77, "offset": -30},
      "vconcat": [{
        "width": 538, "height": 328,
        "title": "Linear (T60) C0 15 days",
        "data": {"name": "c"},
        "transform": [{"filter": "datum.p === 'a'"}],
        "mark": {"type": "line", "color": "black"},
        "encoding": {
          "x": {"field": "x", "type": "quantitative", "scale": {"domain": [0, 70], "reverse": true, "nice": false, "zero": false}, "axis": {"values": [70, 60, 50, 40, 30, 20, 10, 0], "title": "Distance (degree)"}},
          "y": {"field": "y", "type": "quantitative", "scale": {"domain": [-20, 20], "nice": false}, "axis": {"values": [-20, -15, -10, -5, 0, 5, 10, 15, 20], "title": "Latitude (degree)", "labelExpr": "'' + datum.value"}},
          "detail": {"field": "g", "type": "nominal"},
          "order": {"value": null},
          "strokeDash": {"field": "l", "type": "nominal", "scale": {"domain": ["-3", "-19", "-11", "-27"], "range": [[15, 4], [5, 2], [1, 0], [3, 7]]}, "legend": {"title": null}},
          "strokeWidth": {"field": "l", "type": "nominal", "scale": {"type": "ordinal", "domain": ["-3", "-19", "-11", "-27"], "range": [6, 2, 3, 3]}, "legend": {"title": null}}
        }
      }]
    },
    {
      "title": {"text": "d", "anchor": "start", "fontWeight": "bold", "fontSize": 19, "dx": 77, "offset": -30},
      "vconcat": [{
        "width": 547, "height": 328,
        "title": "Linear (T60) C0 60 days",
        "data": {"name": "c"},
        "transform": [{"filter": "datum.p === 'd'"}],
        "mark": {"type": "line", "color": "black"},
        "encoding": {
          "x": {"field": "x", "type": "quantitative", "scale": {"domain": [0, 70], "reverse": true, "nice": false, "zero": false}, "axis": {"values": [70, 60, 50, 40, 30, 20, 10, 0], "title": "Distance (degree)"}},
          "y": {"field": "y", "type": "quantitative", "scale": {"domain": [-20, 20], "nice": false}, "axis": {"values": [-20, -15, -10, -5, 0, 5, 10, 15, 20], "title": "Latitude (degree)", "labelExpr": "'' + datum.value"}},
          "detail": {"field": "g", "type": "nominal"},
          "order": {"value": null},
          "strokeDash": {"field": "l", "type": "nominal", "scale": {"domain": ["-2", "-16", "-9", "-23"], "range": [[15, 4], [5, 2], [1, 0], [3, 7]]}, "legend": {"title": null}},
          "strokeWidth": {"field": "l", "type": "nominal", "scale": {"type": "ordinal", "domain": ["-2", "-16", "-9", "-23"], "range": [6, 2, 3, 3]}, "legend": {"title": null}}
        }
      }]
    },
    {
      "title": {"text": "b", "anchor": "start", "fontWeight": "bold", "fontSize": 19, "dx": 77, "offset": -30},
      "vconcat": [{
        "width": 538, "height": 328,
        "title": "Linear (T60) C0 30 days",
        "data": {"name": "c"},
        "transform": [{"filter": "datum.p === 'b'"}],
        "mark": {"type": "line", "color": "black"},
        "encoding": {
          "x": {"field": "x", "type": "quantitative", "scale": {"domain": [0, 70], "reverse": true, "nice": false, "zero": false}, "axis": {"values": [70, 60, 50, 40, 30, 20, 10, 0], "title": "Distance (degree)"}},
          "y": {"field": "y", "type": "quantitative", "scale": {"domain": [-20, 20], "nice": false}, "axis": {"values": [-20, -15, -10, -5, 0, 5, 10, 15, 20], "title": "Latitude (degree)", "labelExpr": "'' + datum.value"}},
          "detail": {"field": "g", "type": "nominal"},
          "order": {"value": null},
          "strokeDash": {"field": "l", "type": "nominal", "scale": {"domain": ["-3", "-19", "-11", "-27"], "range": [[15, 4], [5, 2], [1, 0], [3, 7]]}, "legend": {"title": null}},
          "strokeWidth": {"field": "l", "type": "nominal", "scale": {"type": "ordinal", "domain": ["-3", "-19", "-11", "-27"], "range": [6, 2, 3, 3]}, "legend": {"title": null}}
        }
      }]
    },
    {
      "title": {"text": "e", "anchor": "start", "fontWeight": "bold", "fontSize": 19, "dx": 77, "offset": -30},
      "vconcat": [{
        "width": 547, "height": 328,
        "title": "Linear (T60) C0 75 days",
        "data": {"name": "c"},
        "transform": [{"filter": "datum.p === 'e'"}],
        "mark": {"type": "line", "color": "black"},
        "encoding": {
          "x": {"field": "x", "type": "quantitative", "scale": {"domain": [0, 70], "reverse": true, "nice": false, "zero": false}, "axis": {"values": [70, 60, 50, 40, 30, 20, 10, 0], "title": "Distance (degree)"}},
          "y": {"field": "y", "type": "quantitative", "scale": {"domain": [-20, 20], "nice": false}, "axis": {"values": [-20, -15, -10, -5, 0, 5, 10, 15, 20], "title": "Latitude (degree)", "labelExpr": "'' + datum.value"}},
          "detail": {"field": "g", "type": "nominal"},
          "order": {"value": null},
          "strokeDash": {"field": "l", "type": "nominal", "scale": {"domain": ["1", "-7", "-3", "-11"], "range": [[15, 4], [5, 2], [1, 0], [3, 7]]}, "legend": {"title": null}},
          "strokeWidth": {"field": "l", "type": "nominal", "scale": {"type": "ordinal", "domain": ["1", "-7", "-3", "-11"], "range": [6, 2, 3, 3]}, "legend": {"title": null}}
        }
      }]
    },
    {
      "title": {"text": "c", "anchor": "start", "fontWeight": "bold", "fontSize": 19, "dx": 77, "offset": -30},
      "vconcat": [{
        "width": 538, "height": 328,
        "title": "Linear (T60) C0 45 days",
        "data": {"name": "c"},
        "transform": [{"filter": "datum.p === 'c'"}],
        "mark": {"type": "line", "color": "black"},
        "encoding": {
          "x": {"field": "x", "type": "quantitative", "scale": {"domain": [0, 70], "reverse": true, "nice": false, "zero": false}, "axis": {"values": [70, 60, 50, 40, 30, 20, 10, 0], "title": "Distance (degree)"}},
          "y": {"field": "y", "type": "quantitative", "scale": {"domain": [-20, 20], "nice": false}, "axis": {"values": [-20, -15, -10, -5, 0, 5, 10, 15, 20], "title": "Latitude (degree)", "labelExpr": "'' + datum.value"}},
          "detail": {"field": "g", "type": "nominal"},
          "order": {"value": null},
          "strokeDash": {"field": "l", "type": "nominal", "scale": {"domain": ["-2", "-16", "-9", "-23"], "range": [[15, 4], [5, 2], [1, 0], [3, 7]]}, "legend": {"title": null}},
          "strokeWidth": {"field": "l", "type": "nominal", "scale": {"type": "ordinal", "domain": ["-2", "-16", "-9", "-23"], "range": [6, 2, 3, 3]}, "legend": {"title": null}}
        }
      }]
    },
    {
      "title": {"text": "f", "anchor": "start", "fontWeight": "bold", "fontSize": 19, "dx": 77, "offset": -30},
      "vconcat": [{
        "width": 547, "height": 328,
        "title": "Linear (T60) C0 90 days",
        "data": {"name": "c"},
        "transform": [{"filter": "datum.p === 'f'"}],
        "mark": {"type": "line", "color": "black"},
        "encoding": {
          "x": {"field": "x", "type": "quantitative", "scale": {"domain": [0, 70], "reverse": true, "nice": false, "zero": false}, "axis": {"values": [70, 60, 50, 40, 30, 20, 10, 0], "title": "Distance (degree)"}},
          "y": {"field": "y", "type": "quantitative", "scale": {"domain": [-20, 20], "nice": false}, "axis": {"values": [-20, -15, -10, -5, 0, 5, 10, 15, 20], "title": "Latitude (degree)", "labelExpr": "'' + datum.value"}},
          "detail": {"field": "g", "type": "nominal"},
          "order": {"value": null},
          "strokeDash": {"field": "l", "type": "nominal", "scale": {"domain": ["1", "-7", "-3", "-11"], "range": [[15, 4], [5, 2], [1, 0], [3, 7]]}, "legend": {"title": null}},
          "strokeWidth": {"field": "l", "type": "nominal", "scale": {"type": "ordinal", "domain": ["1", "-7", "-3", "-11"], "range": [6, 2, 3, 3]}, "legend": {"title": null}}
        }
      }]
    }
  ]
}
